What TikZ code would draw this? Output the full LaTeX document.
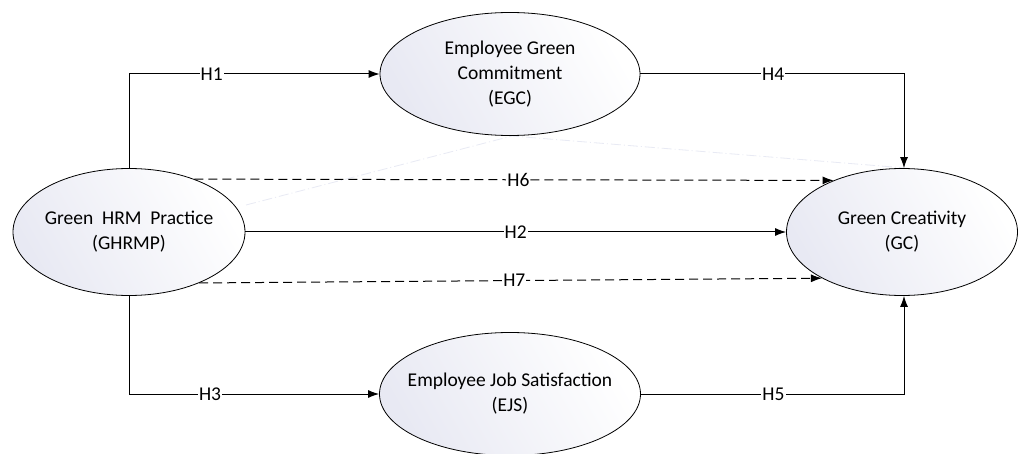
\documentclass[tikz,border=0pt]{standalone}
\usepackage{fontspec}
\setmainfont{Carlito}
\usetikzlibrary{arrows.meta,shapes.geometric}
\definecolor{ellfill}{RGB}{232,233,243}
\definecolor{faint}{RGB}{232,234,244}
\tikzset{
  construct/.style={draw=black, line width=0.8pt, ellipse, minimum width=232pt, minimum height=127pt, inner sep=0pt, align=center, font=\fontsize{19.5}{25}\selectfont, shading=axis, left color=ellfill, right color=white, shading angle=120},
  link/.style={line width=1pt, -{Latex[length=11pt,width=8pt]}},
  dashlink/.style={link, dash pattern=on 9pt off 5pt},
  hlabel/.style={fill=white, inner sep=1pt, font=\fontsize{19.5}{23}\selectfont},
  faintline/.style={draw=faint, line width=0.8pt, dash pattern=on 10pt off 3pt on 1pt off 3pt}
}
\begin{document}
\begin{tikzpicture}[x=1pt,y=-1pt]
\useasboundingbox (0,0) rectangle (1020,454);
\clip (0,0) rectangle (1020,454);
\fill[white] (0,0) rectangle (1020,454);
% faint background line
\coordinate (f1) at (246,205);
\coordinate (f2) at (512,136);
\coordinate (f3) at (930,170);
\draw[faintline] (f1) -- (f2) -- (f3);
\node[construct, inner xsep=-12pt] (ghrmp) at (129,232) {Green\ \ HRM\ \ Practice\\(GHRMP)};
\node[construct, inner xsep=-12pt, minimum width=260pt, minimum height=123pt] (egc) at (510,74) {Employee Green\\Commitment\\(EGC)};
\node[construct, inner xsep=-12pt, minimum width=231pt, minimum height=127pt] (gc) at (902,232) {Green Creativity\\(GC)};
\node[construct, inner xsep=-14pt, minimum width=261pt, minimum height=123pt] (ejs) at (510,394) {Employee Job Satisfaction\\(EJS)};
\draw[link] (ghrmp.north) |- node[hlabel, pos=0.665] {H1} (egc.west);
\draw[link] (ghrmp.south) |- node[hlabel, pos=0.662] {H3} (ejs.west);
\draw[link] (egc.east) -| node[hlabel, pos=0.252] {H4} ([xshift=2pt]gc.north);
\draw[link] (ejs.east) -| node[hlabel, pos=0.252] {H5} ([xshift=2pt]gc.south);
\draw[link] (ghrmp.east) -- node[hlabel, pos=0.5] {H2} (gc.west);
\draw[dashlink] (ghrmp.39) -- node[hlabel, pos=0.507] {H6} (gc.143.5);
\draw[dashlink] (ghrmp.-36) -- node[hlabel, pos=0.506] {H7} (gc.210.3);
\end{tikzpicture}
\end{document}
